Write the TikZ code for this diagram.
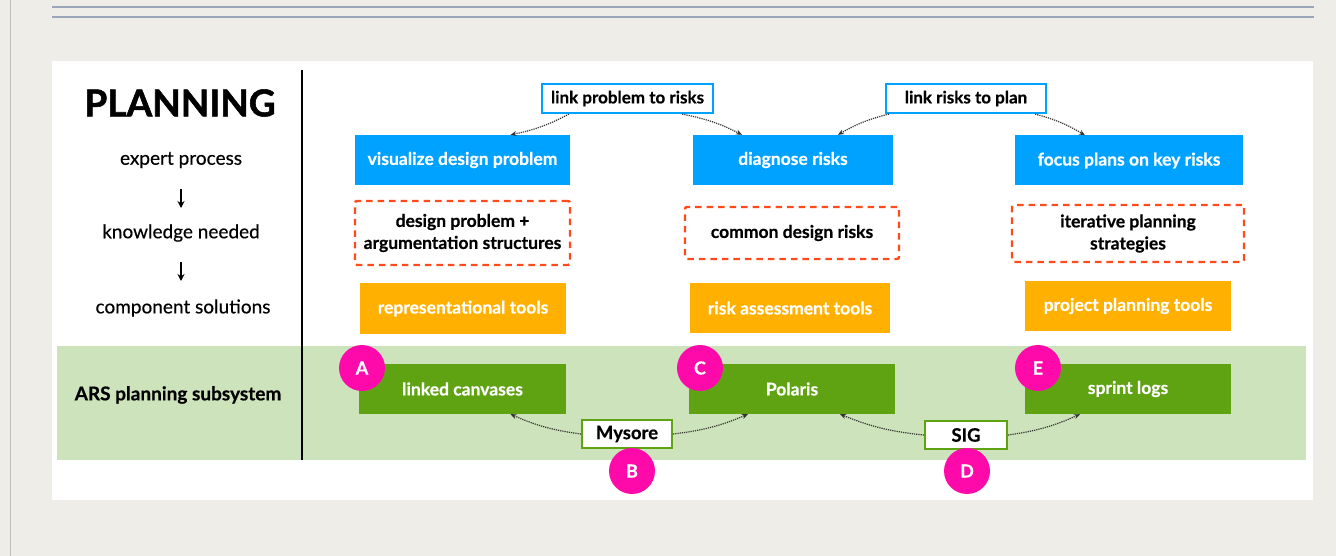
\documentclass[tikz,border=0pt]{standalone}
\usepackage{fontspec}
\setmainfont{Lato}[BoldFeatures={FakeBold=0.5}]
\newfontfamily\heavyfont{Lato}[BoldFeatures={FakeBold=1.5}]
\newfontfamily\midfont{Lato}[FakeBold=0.35]
\usetikzlibrary{arrows.meta}
\definecolor{slidebg}{HTML}{EFEDE8}
\definecolor{rulegray}{HTML}{9AA7B8}
\definecolor{skyblue}{HTML}{00A2FF}
\definecolor{dashred}{HTML}{FF4A1C}
\definecolor{amber}{HTML}{FFB000}
\definecolor{leafgreen}{HTML}{5FA312}
\definecolor{bandgreen}{HTML}{CDE3BC}
\definecolor{pinkdot}{HTML}{FF0AAA}
\tikzset{
  blubox/.style={fill=skyblue, text=white, font=\bfseries\fontsize{17.5}{20}\selectfont, minimum height=50, inner sep=0},
  dashbox/.style={draw=dashred, line width=2.4pt, dash pattern=on 6.5pt off 5pt, rounded corners=2pt, align=center, font=\bfseries\fontsize{17.5}{22}\selectfont, inner sep=0},
  orabox/.style={fill=amber, text=white, font=\bfseries\fontsize{17.5}{20}\selectfont, minimum height=50, inner sep=0},
  grnbox/.style={fill=leafgreen, text=white, font=\bfseries\fontsize{17.5}{20}\selectfont, minimum height=50, inner sep=0},
  linkbox/.style={draw=skyblue, line width=2.2pt, fill=white, font=\bfseries\fontsize{17}{19}\selectfont, minimum height=29, inner sep=0},
  tagbox/.style={draw=leafgreen, line width=2.2pt, fill=white, font=\bfseries\fontsize{18.5}{20}\selectfont, minimum height=28, inner sep=0},
  badge/.style={circle, fill=pinkdot, text=white, minimum size=46, inner sep=0, font=\bfseries\fontsize{18}{20}\selectfont},
  sidelbl/.style={font=\midfont\fontsize{19}{21}\selectfont},
  dotarr/.style={densely dotted, line width=1.2pt, black!80, -{Stealth[length=6pt,width=5pt]}}
}
\begin{document}
\begin{tikzpicture}[x=1pt,y=-1pt]
  % slide
  \useasboundingbox (0,0) rectangle (1336,556);
  \fill[slidebg] (0,0) rectangle (1336,556);
  \draw[black!25] (10,0) -- (10,556);
  \draw[rulegray, line width=1.2pt] (52,7) -- (1314,7);
  \draw[rulegray, line width=1.2pt] (52,17) -- (1314,17);
  \fill[white] (52,61) rectangle (1313,500);
  \fill[bandgreen] (57,346) rectangle (1306,460);
  \draw[line width=1.5pt] (302,70) -- (302,460);

  % left column
  \node[font=\heavyfont\bfseries\fontsize{37}{40}\selectfont] (title) at (180,103) {PLANNING};
  \node[sidelbl] (expert) at (181,160) {expert process};
  \node[sidelbl] (know) at (181,233) {knowledge needed};
  \node[sidelbl] (comp) at (183,308) {component solutions};
  \node[sidelbl, font=\bfseries\fontsize{19}{21}\selectfont] (ars) at (178,395) {ARS planning subsystem};
  \draw[line width=1.4pt, -{Stealth[length=7pt,width=7pt]}] (181,189) -- (181,208);
  \draw[line width=1.4pt, -{Stealth[length=7pt,width=7pt]}] (181,262) -- (181,281);

  % expert process
  \node[linkbox, minimum width=171] (lnkA) at (627.5,98.5) {link problem to risks};
  \node[linkbox, minimum width=160] (lnkB) at (966,98.5) {link risks to plan};
  \node[blubox, minimum width=215] (visd) at (462.5,160) {visualize design problem};
  \node[blubox, minimum width=200] (diag) at (793,160) {diagnose risks};
  \node[blubox, minimum width=228] (focus) at (1129,160.5) {focus plans on key risks};

  % knowledge needed
  \node[dashbox, minimum width=215, minimum height=64] (argk) at (462.5,233) {design problem +\\argumentation structures};
  \node[dashbox, minimum width=214, minimum height=52] (riskk) at (792,233) {common design risks};
  \node[dashbox, minimum width=232, minimum height=57] (iterk) at (1128,233.5) {iterative planning\\strategies};

  % component solutions
  \node[orabox, minimum width=206, minimum height=51] (rept) at (463,308.5) {representational tools};
  \node[orabox, minimum width=200] (riskt) at (790,308) {risk assessment tools};
  \node[orabox, minimum width=206] (plant) at (1128,306) {project planning tools};

  % ARS subsystem
  \node[grnbox, minimum width=207] (canv) at (462.5,389) {linked canvases};
  \node[grnbox, minimum width=206] (pol) at (792,389) {Polaris};
  \node[grnbox, minimum width=206] (sprint) at (1128,389) {sprint logs};
  \node[tagbox, minimum width=90] (mys) at (627,434) {Mysore};
  \node[tagbox, minimum width=82] (sig) at (966,435) {SIG};

  \node[badge] (bA) at (362,368) {A};
  \node[badge] (bB) at (632,471) {B};
  \node[badge] (bC) at (700,368) {C};
  \node[badge] (bD) at (967,471) {D};
  \node[badge] (bE) at (1038,368) {E};

  % dotted links
  \draw[dotarr] ([xshift=28]lnkA.south west) to[bend left=8] ([xshift=48]visd.north);
  \draw[dotarr] ([xshift=-32]lnkA.south east) to[bend left=8] ([xshift=-51]diag.north);
  \draw[dotarr] ([xshift=4]lnkB.south west) to[bend right=8] ([xshift=45]diag.north);
  \draw[dotarr] ([xshift=-12]lnkB.south east) to[bend left=8] ([xshift=-44]focus.north);
  \draw[dotarr] (mys.west) to[bend left=8] ([xshift=48]canv.south);
  \draw[dotarr] (mys.east) to[bend right=8] ([xshift=-44]pol.south);
  \draw[dotarr] (sig.west) to[bend left=8] ([xshift=48]pol.south);
  \draw[dotarr] (sig.east) to[bend right=8] ([xshift=-48]sprint.south);
\end{tikzpicture}
\end{document}
